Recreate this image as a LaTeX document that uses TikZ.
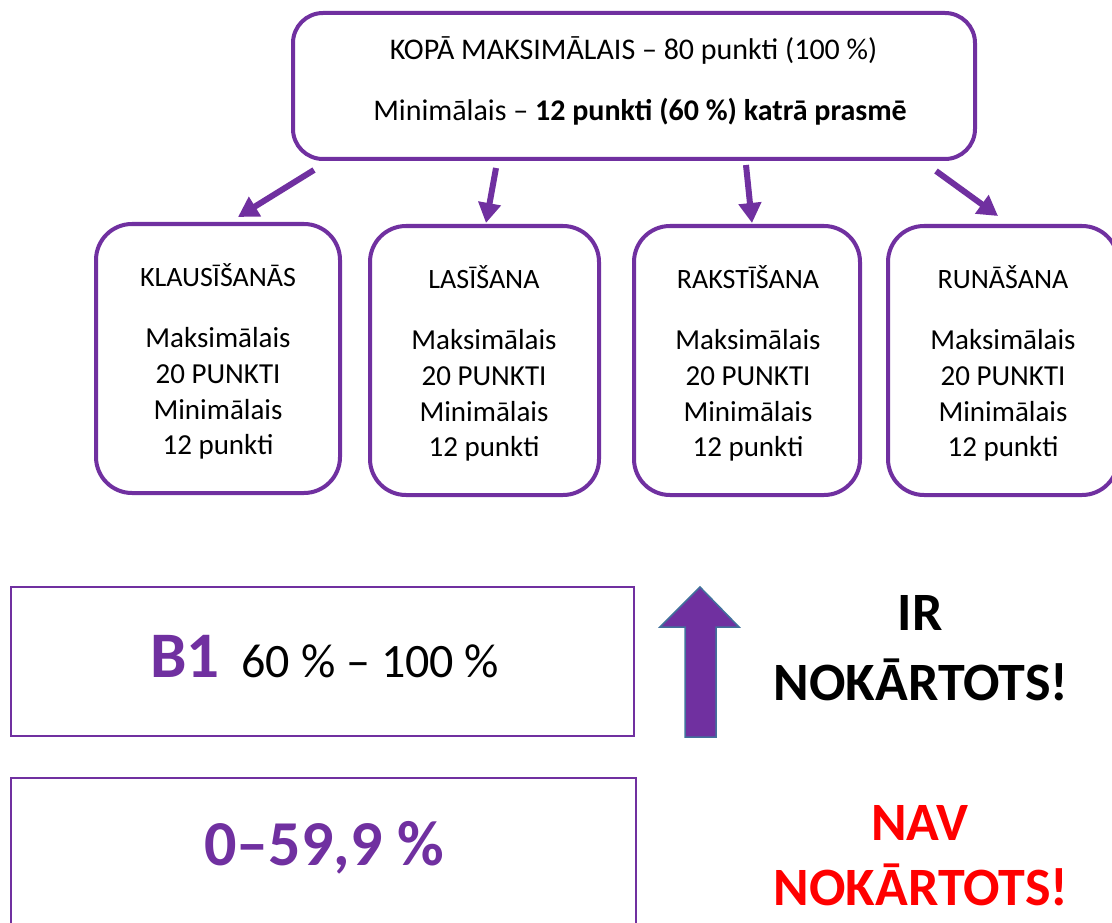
\documentclass[tikz,border=0pt]{standalone}
\usepackage{fontspec}
\setmainfont{Carlito}
\usetikzlibrary{arrows.meta,calc}
\definecolor{vio}{HTML}{7030A0}
\definecolor{edgeblue}{HTML}{41719C}
\definecolor{nokred}{HTML}{FF0000}
\tikzset{
  bigbox/.style={draw=vio,line width=4pt,rounded corners=30pt,inner sep=0pt,outer sep=0pt},
  skillbox/.style={draw=vio,line width=4pt,rounded corners=36pt,inner sep=0pt,outer sep=0pt},
  flatbox/.style={draw=vio,line width=2pt,inner sep=0pt,outer sep=0pt},
  arr/.style={draw=vio,line width=6pt,-{Triangle[length=20pt,width=22pt]}},
  toptext/.style={font=\fontsize{30}{36}\selectfont,inner sep=0pt,anchor=base},
  skilltitle/.style={font=\fontsize{28}{34}\selectfont,inner sep=0pt,anchor=base},
  skillbody/.style={font=\fontsize{29}{36}\selectfont,inner sep=0pt,anchor=base},
  verdict/.style={font=\fontsize{54}{60}\selectfont\bfseries,inner sep=0pt,anchor=base},
}
\newcommand{\skilltext}[4]{%
  \node[skilltitle] (#1t) at (#2,#3) {#4};
  \node[skillbody] (#1l1) at (#2,#3+61) {Maksimālais};
  \node[skillbody] (#1l2) at (#2,#3+97) {20 PUNKTI};
  \node[skillbody] (#1l3) at (#2,#3+133) {Minimālais};
  \node[skillbody] (#1l4) at (#2,#3+168) {12 punkti};
}
\begin{document}
\begin{tikzpicture}[x=1pt,y=-1pt]
\useasboundingbox (0,0) rectangle (1112,923);
\clip (0,0) rectangle (1112,923);
% top box
\node[bigbox,minimum width=682pt,minimum height=146pt] (top) at (634,86) {};
\node[toptext] (t1) at (633.5,60) {KOPĀ MAKSIMĀLAIS – 80 punkti (100 \%)};
\node[toptext] (t2) at (640,121) {Minimālais – \textbf{12 punkti (60 \%) katrā prasmē}};
% skill boxes
\node[skillbox,minimum width=244pt,minimum height=269pt] (k1) at (218,358.5) {};
\node[skillbox,minimum width=229pt,minimum height=269pt] (k2) at (484.5,360.5) {};
\node[skillbox,minimum width=226pt,minimum height=269pt] (k3) at (747,360.5) {};
\node[skillbox,minimum width=230pt,minimum height=269pt] (k4) at (1003,360.5) {};
\skilltext{k1}{218}{286}{KLAUSĪŠANĀS}
\skilltext{k2}{484}{288}{LASĪŠANA}
\skilltext{k3}{748}{288}{RAKSTĪŠANA}
\skilltext{k4}{1003}{288}{RUNĀŠANA}
% arrows
\draw[arr] ($(top.south west)+(21,11)$) -- ($(k1.north west)+(142,-7)$);
\draw[arr] ($(top.south west)+(203,9)$) -- ($(k2.north west)+(116,-3)$);
\draw[arr] ($(top.south west)+(453,6)$) -- ($(k3.north west)+(118,-3)$);
\draw[arr] ($(top.south west)+(643,12)$) -- ($(k4.north west)+(110,-10)$);
% bottom boxes
\node[flatbox,minimum width=623pt,minimum height=149pt] (b1) at (322.5,661.5) {};
\node[flatbox,minimum width=625pt,minimum height=160pt] (b2) at (323.5,858) {};
\node[inner sep=0pt,anchor=base west] (b1t) at (150,677)
  {\fontsize{65}{70}\selectfont\bfseries\color{vio}B1\hspace{22pt}\fontsize{48}{50}\mdseries\color{black}60 \% – 100 \%};
\node[inner sep=0pt,anchor=base,text=vio,font=\fontsize{64}{70}\selectfont\bfseries] (b2t) at (324,865) {0–59,9 \%};
% up block arrow
\path[fill=vio,draw=edgeblue,line width=1.5pt]
  (685,737) -- (685,627) -- (660,627) -- (700,587) -- (739,627) -- (716,627) -- (716,737) -- cycle;
% verdicts
\node[verdict] (ir1) at (920,630) {IR};
\node[verdict] (ir2) at (921,700) {NOKĀRTOTS!};
\node[verdict,text=nokred] (nav1) at (920,840) {NAV};
\node[verdict,text=nokred] (nav2) at (921,905) {NOKĀRTOTS!};
\end{tikzpicture}
\end{document}
